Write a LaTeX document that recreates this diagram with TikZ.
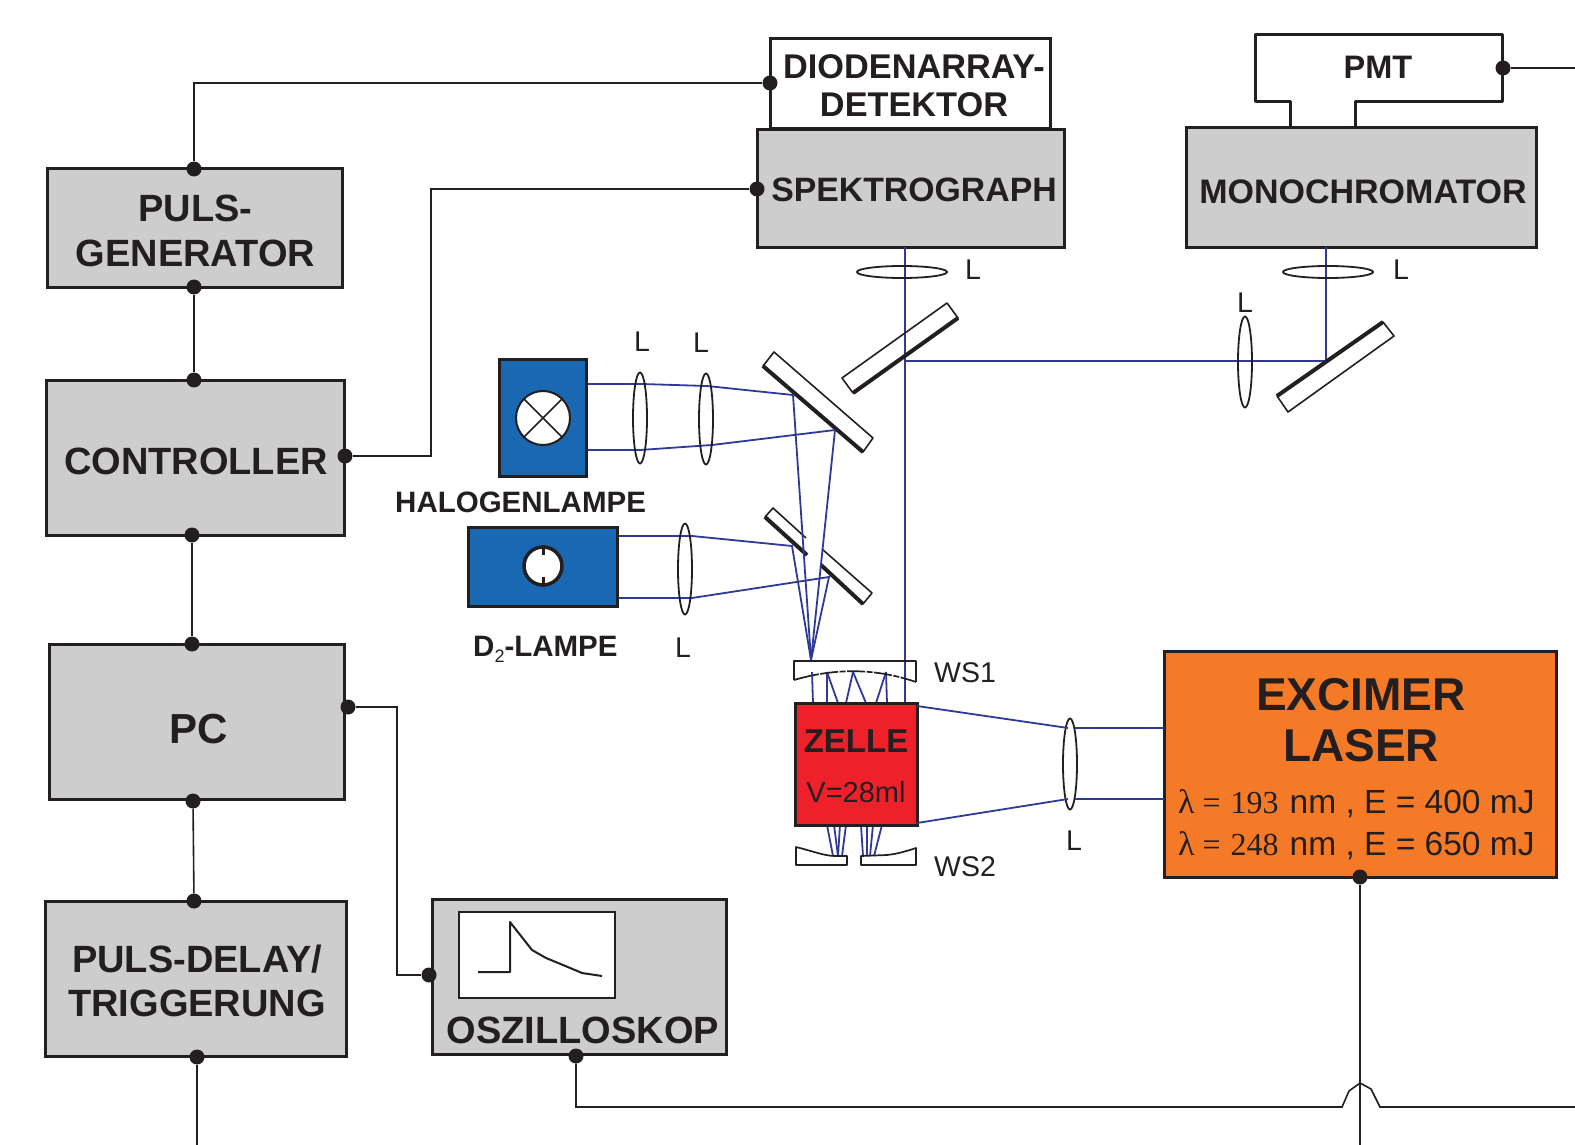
\documentclass[tikz,border=0pt]{standalone}
\usepackage{fontspec}
\setmainfont{Liberation Sans}
\newfontfamily\serifnum{Liberation Serif}
\usetikzlibrary{
  positioning,
  shapes.geometric,
  calc
}
\definecolor{inkdark}{RGB}{35,31,32}
\definecolor{boxgray}{RGB}{205,205,205}
\definecolor{lampblue}{RGB}{27,104,178}
\definecolor{raynavy}{RGB}{46,58,150}
\definecolor{cellred}{RGB}{238,32,42}
\definecolor{laserorange}{RGB}{245,122,40}
\newcommand{\fsz}[1]{\fontsize{#1}{#1}\selectfont}

\begin{document}
\begin{tikzpicture}[
  x=1pt, y=-1pt,
  box/.style={
    draw=inkdark, fill=boxgray, line width=3pt, inner sep=0pt,
  },
  boxtxt/.style={font=\fsz{38}\bfseries, text=inkdark, inner sep=0pt, align=center},
  speclbl/.style={boxtxt, font=\fsz{34.3}\bfseries},
  lampbox/.style={box, fill=lampblue},
  port/.style={circle, fill=inkdark, inner sep=0pt, minimum size=15pt},
  wire/.style={draw=inkdark, line width=1.6pt},
  ray/.style={draw=raynavy, line width=1.8pt},
  vlens/.style={ellipse, draw=inkdark, line width=1.8pt, inner sep=0pt,
    minimum width=14pt, minimum height=91pt},
  hlens/.style={ellipse, draw=inkdark, line width=1.8pt, inner sep=0pt,
    minimum width=90pt, minimum height=12pt},
  lbl/.style={font=\fsz{28.5}, text=inkdark, inner sep=0pt},
  lamplbl/.style={font=\fsz{29.5}\bfseries, text=inkdark, inner sep=0pt},
  mirror/.style={draw=inkdark, line width=1.6pt, fill=white, line join=round},
  silver/.style={draw=inkdark, line width=4pt},
  thinbox/.style={draw=inkdark, line width=1.7pt, line join=round},
  laserline/.style={font=\fsz{33.5}, text=inkdark, inner sep=0pt, anchor=west},
]
\useasboundingbox (0,0) rectangle (1575,1145);

% Electronics column
\node[box, minimum width=295pt, minimum height=118pt] (pgen) at (194.5,228) {};
\node[box, minimum width=298pt, minimum height=155pt] (ctrl) at (195.5,457.5) {};
\node[box, minimum width=295pt, minimum height=155pt] (pc) at (197,722) {};
\node[box, minimum width=301pt, minimum height=155pt] (delay) at (196,979) {};
\node[boxtxt] (pgentxt) at (195.5,231) {PULS-\\[7pt]GENERATOR};
\node[boxtxt] (ctrltxt) at (196,461) {CONTROLLER};
\node[boxtxt, font=\fsz{42}\bfseries] (pctxt) at (199,729) {PC};
\node[boxtxt] (delaytxt) at (197,981) {PULS-DELAY/\\[6pt]TRIGGERUNG};

% Oscilloscope
\node[box, minimum width=294pt, minimum height=155pt] (osc) at (579.5,976.5) {};
\node[boxtxt] (osctxt) at (583,1030) {OSZILLOSKOP};
\node[draw=inkdark, fill=white, line width=2pt, minimum width=156pt, minimum height=86pt, inner sep=0pt] (screen) at (537,955) {};
\draw[draw=inkdark, line width=2pt, line join=round]
  (478,972) -- (510,972) -- (510,922) -- (532,950) -- (546,958) -- (563,965) -- (582,973) -- (602,976);

% Detectors
\node[box, fill=white, minimum width=280pt, minimum height=90pt] (diode) at (910,84) {};
\node[speclbl] (diodetxt) at (914,86) {DIODENARRAY-\\[4pt]DETEKTOR};
\node[box, minimum width=307pt, minimum height=118pt] (spec) at (911,188.5) {};
\node[speclbl, font=\fsz{33.8}\bfseries] (spectxt) at (914,190) {SPEKTROGRAPH};
\draw[draw=inkdark, fill=white, line width=3pt, line join=round]
  (1290,128) -- (1290,102) -- (1255,102) -- (1255,35) -- (1502,35) -- (1502,102) -- (1355,102) -- (1355,128);
\node[box, minimum width=350pt, minimum height=119pt] (mono) at (1361,187.5) {};
\node[speclbl, font=\fsz{34}\bfseries] (monotxt) at (1363,192) {MONOCHROMATOR};
\node[boxtxt, font=\fsz{32.5}\bfseries] (pmt) at (1378,67) {PMT};

% Rays behind the optics
\coordinate (focus) at (811,660);
\draw[ray] (905,247) -- (905,703);
\draw[ray] (905,361) -- (1326,361);
\draw[ray] (1326,247) -- (1326,361);
\foreach \a/\b in {813/812, 827/827, 838/827, 846/853, 866/853, 876/886, 887/886} {
  \draw[ray] (\a,703) -- (\b,672);
}
\foreach \a/\b in {827/833, 834/838, 840/838, 846/842, 861/863, 867/867, 873/870, 882/874} {
  \draw[ray] (\a,825) -- (\b,856);
}

% Mirrors
\draw[mirror, fill=none] (853,393) -- (958,318) -- (947,303) -- (842,378) -- cycle;
\draw[silver] (853,393) -- (958,318);
\draw[mirror] (1277,396) -- (1383,322) -- (1394,336) -- (1288,412) -- cycle;
\draw[silver] (1277,396) -- (1383,322);
\draw[mirror] (763,366) -- (863,452) -- (873,438) -- (774,352) -- cycle;
\draw[silver] (763,366) -- (863,452);
\draw[mirror] (807,555) -- (765,517) -- (773,508) -- (806,538);
\draw[silver] (765,517) -- (807,555);
\draw[mirror] (821,565) -- (863,604) -- (872,593) -- (822,549);
\draw[silver] (821,565) -- (863,604);

% Lamps
\node[lampbox, minimum width=87pt, minimum height=117pt] (halo) at (542.5,417.5) {};
\node[circle, draw=inkdark, fill=white, line width=2pt, minimum size=54pt, inner sep=0pt] (bulb) at (543,418) {};
\draw[wire] (bulb.45) -- (bulb.225) (bulb.135) -- (bulb.315);
\node[lampbox, minimum width=149pt, minimum height=79pt] (dlamp) at (542.5,566.5) {};
\node[circle, draw=inkdark, fill=white, line width=3.5pt, minimum size=38pt, inner sep=0pt] (arc) at (543,566) {};
\draw[draw=inkdark, line width=3pt] (arc.north) -- ++(0,10) (arc.south) -- ++(0,-10);
\node[lamplbl, anchor=west] (halotxt) at (395,502) {HALOGENLAMPE};
\node[lamplbl, anchor=west] (dtxt) at (473,649) {D\raisebox{-6pt}{\fsz{18}\mdseries 2}-LAMPE};

% Lamp rays
\draw[ray] (halo.east |- 0,384) -- (642,384) -- (707,386) -- (793,395) -- (focus);
\draw[ray] (halo.east |- 0,450) -- (640,450) -- (712,445) -- (835,430);
\draw[ray] (835,430) -- (focus);
\draw[ray] (dlamp.east |- 0,536) -- (692,536) -- (792,546) -- (focus);
\draw[ray] (dlamp.east |- 0,598) -- (692,598) -- (829,577) -- (focus);

% Lenses
\node[vlens] (l1) at (640,418) {};
\node[vlens] (l2) at (706,419) {};
\node[vlens] (l3) at (685,569) {};
\node[vlens] (l4) at (1070,764) {};
\node[vlens] (l5) at (1245,362) {};
\node[hlens] (l6) at (902,272) {};
\node[hlens] (l7) at (1328,272) {};
\node[lbl] (l1txt) at (642,342) {L};
\node[lbl] (l2txt) at (701,343) {L};
\node[lbl] (l3txt) at (683,648) {L};
\node[lbl] (l4txt) at (1074,841) {L};
\node[lbl] (l5txt) at (1245,303) {L};
\node[lbl] (l6txt) at (973,270) {L};
\node[lbl] (l7txt) at (1401,270) {L};

% Windows
\draw[thinbox] (794,680) -- (794,661) -- (916,661) -- (916,682);
\draw[thinbox, dash pattern=on 18pt off 1.5pt on 6pt off 1.5pt] (794,680) .. controls (835,668) and (875,668) .. (916,682);
\draw[thinbox] (796,847) .. controls (812,851) and (825,856) .. (835,856) -- (847,856) -- (847,865) -- (796,865) -- cycle;
\draw[thinbox] (861,856) -- (887,855) .. controls (897,854) and (907,851) .. (916,848) -- (916,865) -- (861,865) -- cycle;
\node[lbl, anchor=west] (ws1) at (934,673) {WS1};
\node[lbl, anchor=west] (ws2) at (934,867) {WS2};

% Cell and laser
\node[box, fill=cellred, minimum width=122pt, minimum height=122pt] (cell) at (856,764) {};
\node[boxtxt, font=\fsz{33}\bfseries] (celltxt) at (856,741) {ZELLE};
\node[boxtxt, font=\fsz{29}\mdseries] (cellvol) at (856,792) {V=28ml};
\node[box, fill=laserorange, minimum width=392pt, minimum height=226pt] (laser) at (1360,764) {};
\node[boxtxt, font=\fsz{46}\bfseries] (lasertxt) at (1361,720) {EXCIMER\\[5pt]LASER};
\node[laserline] (line1) at (1178,804) {{\serifnum\fsz{34}λ\hspace{8pt}\fsz{32}=\hspace{10pt}193}\hspace{11pt}nm , E = 400 mJ};
\node[laserline] (line2) at (1178,846) {{\serifnum\fsz{34}λ\hspace{8pt}\fsz{32}=\hspace{10pt}248}\hspace{11pt}nm , E = 650 mJ};
\draw[ray] (917,706) -- (1068,728) (1075,728) -- (1164,728);
\draw[ray] (917,823) -- (1068,799) (1075,799) -- (1164,799);

% Ports
\node[port] (pgent) at (194,169) {};
\node[port] (pgenb) at (194,287) {};
\node[port] (ctrlt) at (194,380) {};
\node[port] (ctrlr) at (345,456) {};
\node[port] (ctrlb) at (192,535) {};
\node[port] (pct) at (192,644) {};
\node[port] (pcr) at (348,707) {};
\node[port] (pcb) at (193,801) {};
\node[port] (delayt) at (194,901) {};
\node[port] (delayb) at (197,1057) {};
\node[port] (oscl) at (429,975) {};
\node[port] (oscb) at (576,1056) {};
\node[port] (diodel) at (770,83) {};
\node[port] (specl) at (757,189) {};
\node[port] (pmtp) at (1503,68) {};
\node[port] (laserb) at (1360,877) {};

% Free ends at the picture edge
\coordinate (delayend) at (197,1145);
\coordinate (laserend) at (1360,1145);
\coordinate (pmtend) at (1575,68);
\coordinate (oscend) at (1575,1107);

% Wires
\foreach \a/\b in {pgenb/ctrlt, ctrlb/pct, pcb/delayt, delayb/delayend, laserb/laserend, pmtp/pmtend} {
  \draw[wire] (\a) -- (\b);
}
\draw[wire] (pgent) |- (diodel);
\draw[wire] (ctrlr) -- (431,456) -- (431,189) -- (specl);
\draw[wire] (pcr) -- (397,707) -- (397,975) -- (oscl);
\draw[wire] (oscb) |- (1342,1107) -- (1349,1091) -- (1360,1083) -- (1371,1089) -- (1380,1107) -- (oscend);

\end{tikzpicture}
\end{document}
